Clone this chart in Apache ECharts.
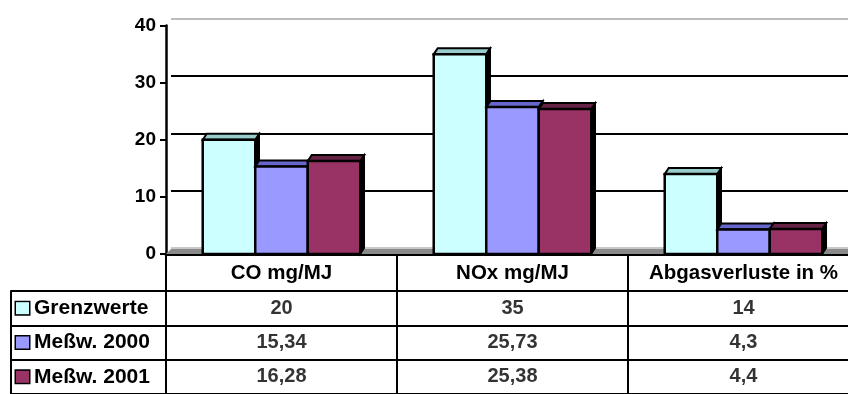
<!DOCTYPE html>
<html>
<head>
<meta charset="utf-8">
<script src="https://cdn.jsdelivr.net/npm/echarts@6/dist/echarts.min.js"></script>
<style>
  html, body { margin: 0; padding: 0; overflow: hidden; background: #fff; }
  #chart { width: 860px; height: 394px; }
</style>
</head>
<body>
<div id="chart"></div>
<script>
// Categories and measured values
const categories = ['CO mg/MJ', 'NOx mg/MJ', 'Abgasverluste in %'];
const seriesNames = ['Grenzwerte', 'Meßw. 2000', 'Meßw. 2001'];
const grenzwerte = [20, 35, 14];
const messw2000 = [15.34, 25.73, 4.3];
const messw2001 = [16.28, 25.38, 4.4];
const valueTicks = [0, 10, 20, 30, 40];

const seriesValues = [grenzwerte, messw2000, messw2001];
const faceColors = ['#CCFFFF', '#9999FF', '#993366'];
const capColors = ['#99CCCC', '#6666CC', '#662244'];

const FONT = "'Liberation Sans', Arial, sans-serif";
const DX = 4, DY = 6;          // depth of the 3D columns
const BAR_FRAC = 0.682;         // share of a category band used by the three columns

function fmt(v) { return String(v).replace('.', ','); }

function columnRenderer(slot) {
  return function (params, api) {
    const c = api.value(0), v = api.value(1);
    const top = api.coord([c, v]);
    const base = api.coord([c, 0]);
    const band = api.size([1, 0])[0];
    const bw = band * BAR_FRAC / 3;
    const x0 = top[0] - bw * 1.5 + slot * bw;
    const x1 = x0 + bw;
    const yt = top[1], yb = base[1];
    return {
      type: 'group',
      children: [
        { type: 'polygon', shape: { points: [[x1, yt], [x1 + DX, yt - DY], [x1 + DX, yb - DY], [x1, yb]] },
          style: { fill: '#000', stroke: '#000', lineWidth: 1.5 } },
        { type: 'polygon', shape: { points: [[x0, yt], [x0 + DX, yt - DY], [x1 + DX, yt - DY], [x1, yt]] },
          style: { fill: capColors[slot], stroke: '#000', lineWidth: 2 } },
        { type: 'rect', shape: { x: x0, y: yt, width: bw, height: yb - yt },
          style: { fill: faceColors[slot], stroke: '#000', lineWidth: 2.5 } }
      ]
    };
  };
}

function floorRenderer(params, api) {
  const cs = params.coordSys;
  const yb = api.coord([0, 0])[1];
  return {
    type: 'polygon',
    shape: { points: [[cs.x, yb], [cs.x + 5, yb - 5], [cs.x + cs.width + 5, yb - 5], [cs.x + cs.width, yb]] },
    style: { fill: '#8a8a8a' }
  };
}

const columnSeries = seriesValues.map((vals, s) => ({
  name: seriesNames[s],
  type: 'custom',
  xAxisIndex: 0, yAxisIndex: 0,
  z: 3 + s,
  renderItem: columnRenderer(s),
  data: vals.map((v, i) => [i, v])
}));

// table cells: [column, row, value]
const cellData = [];
seriesValues.forEach((vals, s) => vals.forEach((v, i) => cellData.push([i, s, v])));

const legendRich = { t: { fontFamily: FONT, fontWeight: 'bold', fontSize: 21, color: '#000', padding: [0, 0, 0, 5] } };
seriesNames.forEach((n, s) => {
  legendRich['k' + s] = { width: 13, height: 12, backgroundColor: faceColors[s], borderColor: '#000', borderWidth: 1.5 };
});

const chart = echarts.init(document.getElementById('chart'), null, { renderer: 'canvas' });
chart.setOption({
  animation: false,
  backgroundColor: '#fff',
  grid: [
    { left: 166, top: 25.6, width: 693, height: 228.4 },   // front plane
    { left: 171, top: 19.1, width: 693, height: 228.4 },   // back wall
    { left: 166, top: 291, width: 693, height: 110 }       // data table
  ],
  xAxis: [
    {
      gridIndex: 0, type: 'category', data: categories,
      axisLine: { show: true, lineStyle: { color: '#000', width: 3 } },
      axisTick: { show: true, interval: 0, length: 37, lineStyle: { color: '#000', width: 2 } },
      axisLabel: { interval: 0, margin: 9, fontFamily: FONT, fontWeight: 'bold', fontSize: 20.5, color: '#000' },
      splitLine: { show: false }
    },
    {
      gridIndex: 1, type: 'category', data: categories,
      axisLine: { show: false }, axisTick: { show: false }, axisLabel: { show: false }, splitLine: { show: false }
    },
    {
      gridIndex: 2, type: 'category', data: categories,
      axisLine: { show: false }, axisTick: { show: false }, axisLabel: { show: false },
      splitLine: { show: true, interval: 0, lineStyle: { color: '#000', width: 2 } }
    }
  ],
  yAxis: [
    {
      gridIndex: 0, type: 'value', min: valueTicks[0], max: valueTicks[valueTicks.length - 1], interval: 10,
      axisLine: { show: true, lineStyle: { color: '#000', width: 2.5 } },
      axisTick: { show: true, length: 6, lineStyle: { color: '#000', width: 2 } },
      axisLabel: { margin: 10, fontFamily: FONT, fontWeight: 'bold', fontSize: 19, color: '#000' },
      splitLine: { show: false }
    },
    {
      gridIndex: 1, type: 'value', min: valueTicks[0], max: valueTicks[valueTicks.length - 1], interval: 10,
      axisLine: { show: false }, axisTick: { show: false }, axisLabel: { show: false },
      splitLine: { show: true, lineStyle: { color: ['#c8c8c8', '#000', '#000', '#000', '#bcbcbc'], width: 2 } }
    },
    {
      gridIndex: 2, type: 'category', data: seriesNames, inverse: true,
      axisLine: { show: true, lineStyle: { color: '#000', width: 2 } },
      axisTick: { show: true, interval: 0, length: 155, lineStyle: { color: '#000', width: 2 } },
      axisLabel: {
        interval: 0, margin: 150, align: 'left',
        formatter: (val, idx) => '{k' + idx + '|}{t|' + val + '}',
        rich: legendRich
      },
      splitLine: { show: true, interval: 0, lineStyle: { color: '#000', width: 2 } }
    },
    {
      gridIndex: 2, type: 'category', data: seriesNames, inverse: true, position: 'left', offset: 155,
      axisLine: { show: true, lineStyle: { color: '#000', width: 2 } },
      axisTick: { show: false }, axisLabel: { show: false }, splitLine: { show: false }
    }
  ],
  series: [
    {
      type: 'custom', xAxisIndex: 0, yAxisIndex: 0, z: 1,
      renderItem: floorRenderer, data: [[0, 0]], silent: true
    },
    ...columnSeries,
    {
      type: 'scatter', xAxisIndex: 2, yAxisIndex: 2,
      symbolSize: 1, itemStyle: { color: 'rgba(0,0,0,0)' },
      label: {
        show: true, position: 'inside',
        formatter: p => fmt(p.value[2]),
        fontFamily: FONT, fontWeight: 'bold', fontSize: 20, color: '#000'
      },
      data: cellData
    }
  ]
});
</script>
</body>
</html>
